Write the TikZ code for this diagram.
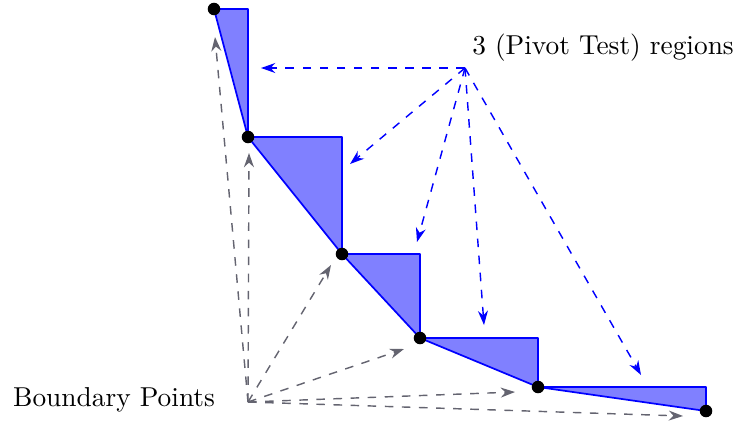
\documentclass[tikz,border=0pt]{standalone}
\usepackage{tikz}
\usetikzlibrary{arrows.meta, positioning, calc}
\definecolor{arrowgray}{RGB}{100,100,112}

\begin{document}
\begin{tikzpicture}[x=0.01233cm, y=-0.01233cm,
    every node/.style={font=\fontsize{9.6}{11.5}\selectfont},
    region/.style={fill=blue!50, draw=blue, line width=0.6pt, line join=round},
    pivotarrow/.style={-{Stealth[length=5pt,width=3.5pt]}, dashed, blue, line width=0.5pt},
    boundarrow/.style={-{Stealth[length=5pt,width=3.5pt]}, dashed, arrowgray, line width=0.5pt},
    dot/.style={circle, fill=black, inner sep=0pt, minimum size=4.4pt}]
\useasboundingbox (0,0) rectangle (736,422);

% Boundary points
\foreach \x/\y [count=\i] in {214/9,248/137,342/254,420/338,538/387,706/411}
    \coordinate (p\i) at (\x,\y);

% Pivot test regions between neighbouring points
\foreach \i [evaluate=\i as \j using int(\i+1)] in {1,...,5}
    \draw[region] (p\i) -- (p\i -| p\j) -- (p\j) -- cycle;

% Labels
\node (pivot) at (603,48) {3 (Pivot Test) regions};
\coordinate (pivotsrc) at (465,68);
\node (bound) at (114,400) {Boundary Points};
\coordinate (boundsrc) at (248,402);

% Arrows to the regions
\foreach \x/\y [count=\k] in {261/68,350/164,417/242,484/325,641/375} {
    \coordinate (r\k) at (\x,\y);
    \draw[pivotarrow] (pivotsrc) -- (r\k);
}

% Arrows to the points
\foreach \x/\y [count=\k] in {215/37,249/153,331/265,404/349,515/392,683/416} {
    \coordinate (b\k) at (\x,\y);
    \draw[boundarrow] (boundsrc) -- (b\k);
}

% Dots on top
\foreach \i in {1,...,6}
    \node[dot] (d\i) at (p\i) {};

\end{tikzpicture}
\end{document}
